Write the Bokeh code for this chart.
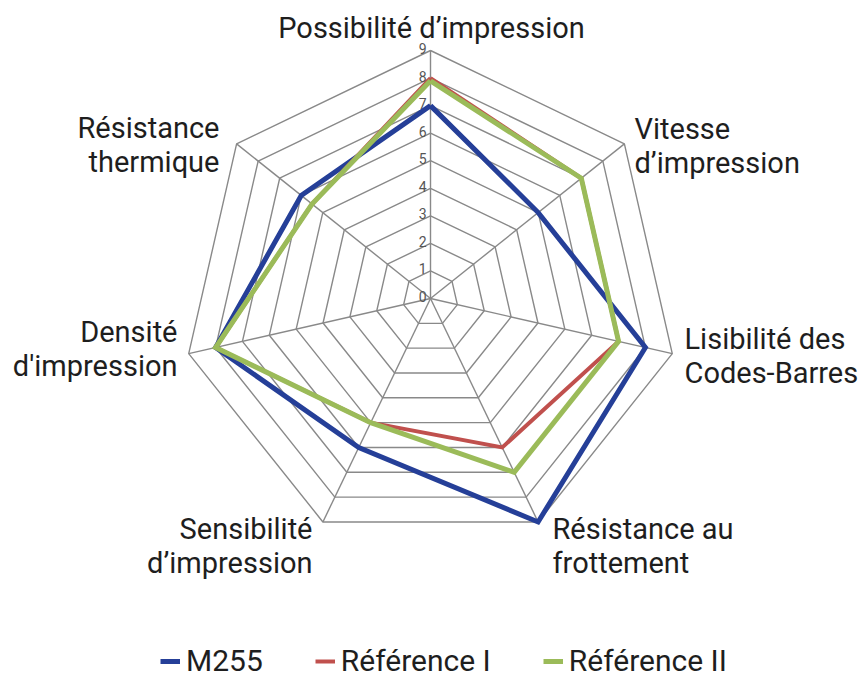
import numpy as np
from bokeh.plotting import figure
from bokeh.models import Range1d, Legend, LegendItem, ColumnDataSource
from bokeh.core.properties import value
from bokeh.embed import file_html
from bokeh.resources import INLINE

# ---- data ----
categories = [
    "Possibilité d’impression",
    "Vitesse\nd’impression",
    "Lisibilité des\nCodes-Barres",
    "Résistance au\nfrottement",
    "Sensibilité\nd’impression",
    "Densité\nd'impression",
    "Résistance\nthermique",
]
m255 = [7, 5, 8, 9, 6, 8, 6]
ref1 = [8, 7, 7, 6, 5, 8, 5.5]
ref2 = [7.9, 7, 7, 7, 5, 8, 5.5]
series_names = ["M255", "Référence I", "Référence II"]
tick_values = list(range(0, 10))
max_value = 9

# ---- styling / layout ----
W, H = 861, 675
CX, CY = 430, 298          # centre of the radar in figure pixels (from top-left)
R_MAX = 248                # radius of value 9, px
UNIT = R_MAX / max_value
colors = ["#253f98", "#c0504d", "#9bbb59"]
widths = [5, 4, 5]
GRID = "#898989"
FONT = "Roboto"
TXT = "#1e1e1e"

n = len(categories)
theta = np.arange(n) * 2 * np.pi / n


def to_xy(vals):
    v = np.asarray(vals, dtype=float) * UNIT
    return list(v * np.sin(theta)) + [v[0] * np.sin(theta[0])], \
        list(v * np.cos(theta)) + [v[0] * np.cos(theta[0])]


p = figure(width=W, height=H, output_backend="svg", toolbar_location=None,
           x_range=Range1d(-CX, W - CX), y_range=Range1d(-(H - CY), CY),
           min_border=0, outline_line_color=None)
p.axis.visible = False
p.grid.visible = False
p.background_fill_color = None
p.border_fill_color = None

# grid polygons
gxs, gys = [], []
for k in tick_values[1:]:
    xs, ys = to_xy([k] * n)
    gxs.append(xs)
    gys.append(ys)
p.multi_line(gxs, gys, line_color=GRID, line_width=1.4)
# spokes
p.segment(x0=[0] * n, y0=[0] * n,
          x1=list(max_value * UNIT * np.sin(theta)),
          y1=list(max_value * UNIT * np.cos(theta)),
          line_color=GRID, line_width=1.4)

# tick labels
p.text(x=[-4] * len(tick_values), y=[t * UNIT + 2 for t in tick_values],
       text=[str(t) for t in tick_values], text_align="right",
       text_baseline="middle", text_font=value(FONT),
       text_font_size="14px", text_color="#555555")

# series
renderers = []
for vals, c, w in zip([m255, ref1, ref2], colors, widths):
    xs, ys = to_xy(vals)
    r = p.line(xs, ys, line_color=c, line_width=w, line_join="miter")
    renderers.append(r)

# category labels (anchor in page px, alignment)
label_pos = [
    (431, 27, "center"),
    (634, 145, "left"),
    (684, 355, "left"),
    (552, 545, "left"),
    (312, 545, "right"),
    (177, 348, "right"),
    (219, 144, "right"),
]
src = ColumnDataSource(dict(
    x=[px - CX for px, py, a in label_pos],
    y=[CY - py for px, py, a in label_pos],
    text=categories,
    align=[a for px, py, a in label_pos],
))
p.text(x="x", y="y", text="text", source=src, text_align="align",
       text_baseline="middle", text_font=value(FONT), text_font_size="29px",
       text_color=TXT, text_line_height=1.0)

legend = Legend(items=[LegendItem(label=nm, renderers=[r])
                       for nm, r in zip(series_names, renderers)],
                orientation="horizontal", location=(160, -3),
                glyph_width=20, label_standoff=6, spacing=52, padding=0,
                margin=0, border_line_color=None, background_fill_alpha=0,
                label_text_font=FONT, label_text_font_size="30px",
                label_text_color=TXT)
p.add_layout(legend)

open("out.html", "w").write(file_html(p, INLINE))
